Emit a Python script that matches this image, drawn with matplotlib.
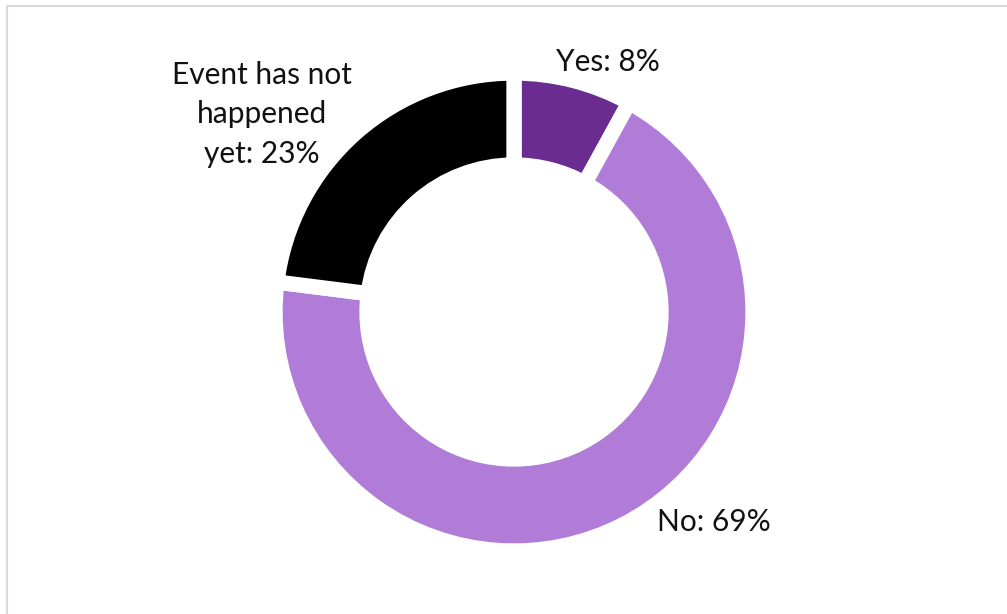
import matplotlib.pyplot as plt
from matplotlib.patches import Rectangle

labels = ["Yes", "No", "Event has not\nhappened\nyet"]
shares = [8, 69, 23]
colors = ["#6B2C91", "#B07CD8", "#000000"]

W, H = 1007, 614

fig = plt.figure(figsize=(W / 100, H / 100), dpi=100)
ax = fig.add_axes([0, 0, 1, 1])

# ring with white gaps between the slices
wedges, _ = ax.pie(shares, colors=colors, startangle=90, counterclock=False,
                   center=(514, H - 312), radius=239, frame=True,
                   wedgeprops=dict(width=92, edgecolor="white", linewidth=11))
ax.set_xlim(0, W)
ax.set_ylim(0, H)
ax.set_aspect("equal")
ax.axis("off")

# label spots, pixel coords from the top-left corner
spots = [(608, 62), (714, 522), (262, 114)]
for lab, val, (x, y) in zip(labels, shares, spots):
    ax.text(x, H - y, f"{lab}: {val}%", ha="center", va="center",
            fontsize=21.5, family="Lato", linespacing=1.5, color="#111111")

# light outer border of the chart area
ax.add_patch(Rectangle((6.5, -20), W + 40, H - 5.5 + 20, fill=False,
                       edgecolor="#D9D9D9", linewidth=1.5, clip_on=False))

fig.savefig("out.png", dpi=100)
